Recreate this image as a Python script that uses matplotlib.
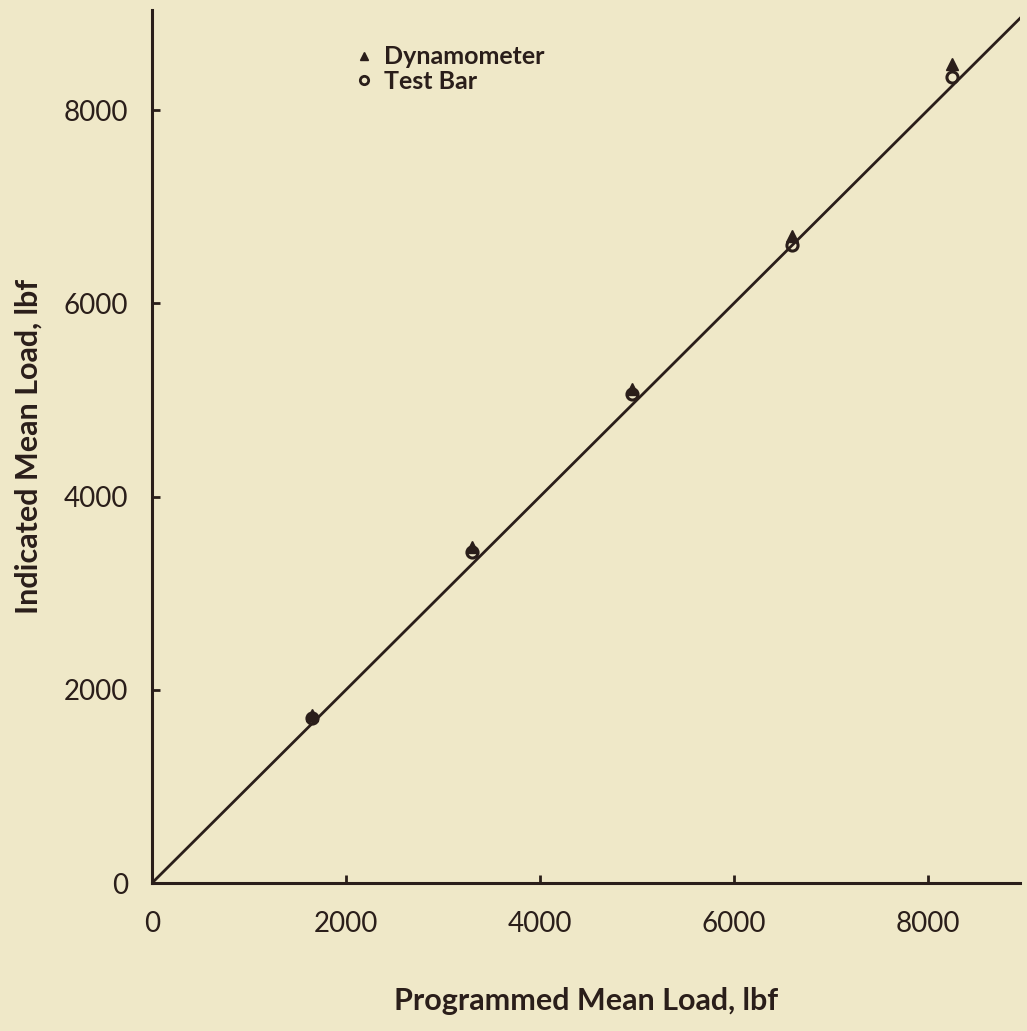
import matplotlib.pyplot as plt
from matplotlib.lines import Line2D

# programmed mean load (lbf) and the two indicated readings
programmed = [1650, 3300, 4950, 6600, 8250]
dynamometer = [1740, 3480, 5110, 6700, 8480]
test_bar = [1710, 3430, 5060, 6600, 8340]
line_x = [0, 9000]
line_y = [0, 9000]

ticks = [0, 2000, 4000, 6000, 8000]

bg = '#efe8c8'
ink = '#2a1e1a'

plt.rcParams['font.family'] = ['Lato', 'DejaVu Sans']

fig = plt.figure(figsize=(10.27, 10.31), dpi=100, facecolor=bg)
ax = fig.add_axes([0.148, 0.1435, 0.845, 0.847], facecolor=bg)

ax.plot(line_x, line_y, color=ink, lw=2)
ax.plot(programmed, dynamometer, '^', color=ink, ms=8, zorder=3)
ax.plot(programmed, test_bar, 'o', mfc='none', mec=ink, mew=2.2, ms=8, zorder=3)

ax.set_xlim(0, 8950)
ax.set_ylim(0, 9040)
ax.set_xticks(ticks)
ax.set_yticks(ticks)
ax.tick_params(direction='in', length=6, width=2, color=ink, labelcolor=ink,
               labelsize=20)
ax.tick_params(axis='x', pad=20)
ax.tick_params(axis='y', pad=17)

for s in ['top', 'right']:
    ax.spines[s].set_visible(False)
for s in ['left', 'bottom']:
    ax.spines[s].set_color(ink)
    ax.spines[s].set_linewidth(2.2)

ax.set_xlabel('Programmed Mean Load, lbf', fontsize=22, fontweight='bold',
              color=ink, labelpad=36)
ax.set_ylabel('Indicated Mean Load, lbf', fontsize=22, fontweight='bold',
              color=ink, labelpad=15)

handles = [
    Line2D([], [], marker='^', ls='none', color=ink, ms=6),
    Line2D([], [], marker='o', ls='none', mfc='none', mec=ink, mew=2, ms=6),
]
leg = ax.legend(handles, ['Dynamometer', 'Test Bar'], loc='upper left',
                bbox_to_anchor=(0.21, 0.985), frameon=False, fontsize=18,
                labelspacing=0.05, handlelength=0.6, handletextpad=0.5)
for t in leg.get_texts():
    t.set_color(ink)
    t.set_fontweight('bold')

fig.savefig('out.png', dpi=100, facecolor=bg)
